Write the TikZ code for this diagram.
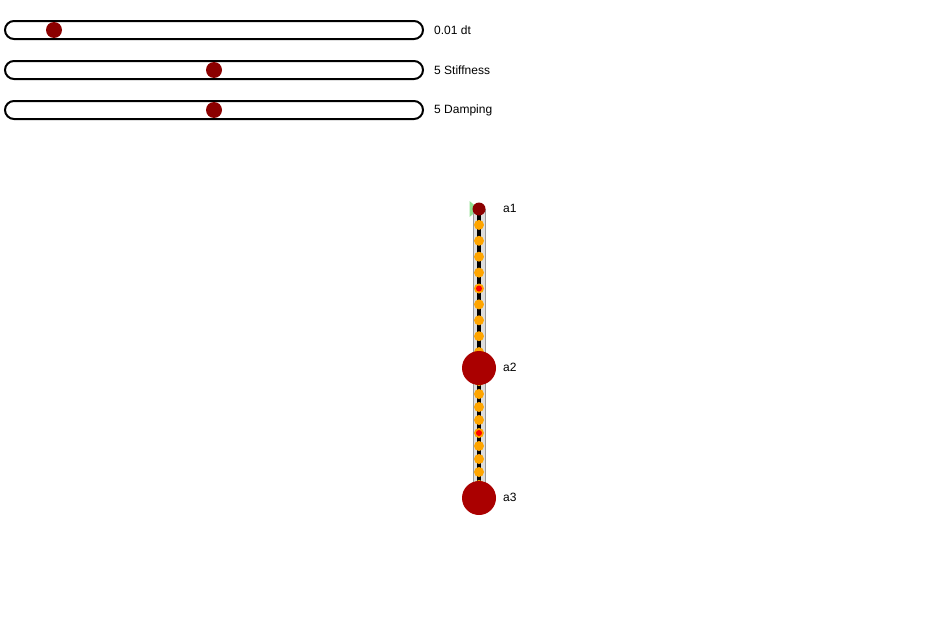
\documentclass[tikz,border=0pt]{standalone}
\usepackage{fontspec}
\setmainfont{Liberation Sans}
\usetikzlibrary{calc}
\definecolor{knob}{HTML}{8B0000}
\definecolor{mass}{HTML}{AA0000}
\definecolor{dotor}{HTML}{FFA500}
\definecolor{barfill}{HTML}{DDDDDD}
\definecolor{barline}{HTML}{999999}
\definecolor{pingreen}{HTML}{90E090}
\begin{document}
\begin{tikzpicture}[x=1pt,y=-1pt,
  track/.style={draw=black,line width=2pt,fill=white,rounded corners=9pt},
  knobdot/.style={circle,fill=knob,inner sep=0pt,minimum size=16pt},
  lbl/.style={anchor=west,inner sep=0pt,font=\fontsize{12pt}{14pt}\selectfont},
  bigmass/.style={circle,fill=mass,inner sep=0pt,minimum size=34pt},
  topmass/.style={circle,fill=knob,inner sep=0pt,minimum size=13pt},
  sdot/.style={circle,fill=dotor,inner sep=0pt,minimum size=10pt},
  cdot/.style={circle,fill=dotor,inner sep=0pt,minimum size=10pt,
    path picture={\fill[red] (path picture bounding box.center) circle (3pt);}}]
\useasboundingbox (0,0) rectangle (929,621);
% sliders
\foreach \yy/\kx/\txt/\nm in {30/54/{0.01 dt}/dt,70/214/{5 Stiffness}/st,110/214/{5 Damping}/dp}{
  \draw[track] (5,\yy-9) rectangle (423,\yy+9);
  \node[knobdot] (knob\nm) at (\kx,\yy) {};
  \node[lbl] (lab\nm) at (434,\yy) {\txt};
}
% chain
\coordinate (A1) at (479,209);
\coordinate (A2) at (479,368);
\coordinate (A3) at (479,498);
\fill[pingreen] (469.5,201) -- (479,209) -- (469.5,217) -- cycle;
\draw[barline,fill=barfill,line width=1pt] (473,209) rectangle (485,498);
\draw[black,line width=4pt] (A1) -- (A3);
\foreach \k in {1,...,9}{
  \ifnum\k=5
    \node[cdot] (u\k) at ($(A1)!\k/10!(A2)$) {};
    \node[cdot] (l\k) at ($(A2)!\k/10!(A3)$) {};
  \else
    \node[sdot] (u\k) at ($(A1)!\k/10!(A2)$) {};
    \node[sdot] (l\k) at ($(A2)!\k/10!(A3)$) {};
  \fi
}
\node[topmass] (a1) at (A1) {};
\node[bigmass] (a2) at (A2) {};
\node[bigmass] (a3) at (A3) {};
\node[lbl] (la1) at (503,208) {a1};
\node[lbl] (la2) at (503,367) {a2};
\node[lbl] (la3) at (503,497) {a3};
\end{tikzpicture}
\end{document}
